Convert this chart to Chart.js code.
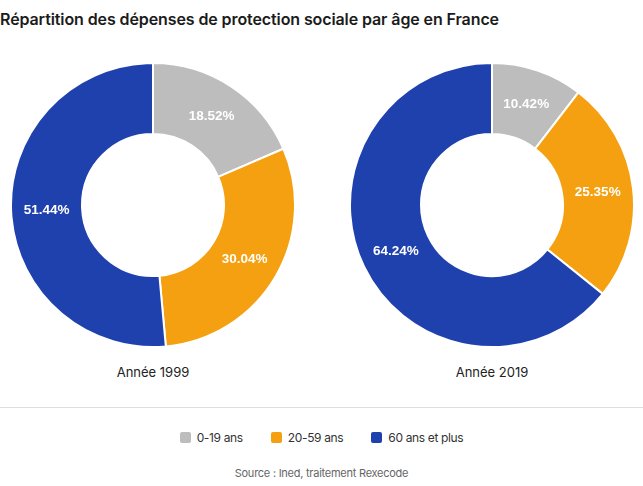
<!DOCTYPE html>
<html><head><meta charset="utf-8">
<script src="https://cdn.jsdelivr.net/npm/chart.js@4"></script>
<style>
html,body{margin:0;padding:0;background:#fff;width:643px;height:486px;overflow:hidden;font-family:Inter,"Noto Sans",sans-serif;}
#title{position:absolute;left:0;top:9px;font-size:16px;font-weight:600;color:#1b1b1b;white-space:nowrap;letter-spacing:-0.1px;}
.wrap{position:absolute;top:62px;width:286px;height:286px;}
.cap{position:absolute;top:364px;width:200px;text-align:center;font-size:13px;color:#222;}
#rule{position:absolute;left:0;top:407px;width:643px;height:1px;background:#dedede;}
#legend{position:absolute;top:430px;left:0;width:643px;text-align:center;font-size:12px;color:#333;letter-spacing:-0.35px;}
#legend span.item{display:inline-block;margin:0 14px;}
#legend i{display:inline-block;width:11px;height:11px;border-radius:2px;vertical-align:-1px;margin-right:6px;}
#source{position:absolute;top:466px;left:0;width:643px;text-align:center;font-size:11px;color:#666;letter-spacing:-0.25px;}
</style></head><body>
<div id="title">Répartition des dépenses de protection sociale par âge en France</div>
<div class="wrap" style="left:10px"><canvas id="c1"></canvas></div>
<div class="wrap" style="left:349px"><canvas id="c2"></canvas></div>
<div class="cap" id="cap1" style="left:53px"></div>
<div class="cap" id="cap2" style="left:392px"></div>
<div id="rule"></div>
<div id="legend"></div>
<div id="source">Source : Ined, traitement Rexecode</div>
<script>
const categories = ["0-19 ans", "20-59 ans", "60 ans et plus"];
const years = ["Année 1999", "Année 2019"];
const values1999 = [18.52, 30.04, 51.44];
const values2019 = [10.42, 25.35, 64.24];
const colors = ["#BDBDBD", "#F4A010", "#1F41AE"];

const labelPlugin = {
  id: 'pctLabels',
  afterDatasetsDraw(chart) {
    const ctx = chart.ctx;
    const meta = chart.getDatasetMeta(0);
    const data = chart.data.datasets[0].data;
    ctx.save();
    ctx.fillStyle = '#fff';
    ctx.font = 'bold 13.5px "Liberation Sans", Arial, sans-serif';
    ctx.textAlign = 'center';
    ctx.textBaseline = 'middle';
    meta.data.forEach((arc, i) => {
      const p = arc.tooltipPosition();
      ctx.fillText(data[i].toFixed(2) + '%', p.x, p.y);
    });
    ctx.restore();
  }
};

function make(id, values) {
  return new Chart(document.getElementById(id), {
    type: 'doughnut',
    data: { labels: categories, datasets: [{ data: values, backgroundColor: colors, borderColor: '#fff', borderWidth: 2 }] },
    options: {
      responsive: true, maintainAspectRatio: false, animation: false,
      cutout: '50%',
      layout: { padding: 0 },
      plugins: { legend: { display: false }, tooltip: { enabled: false } }
    },
    plugins: [labelPlugin]
  });
}
make('c1', values1999);
make('c2', values2019);
document.getElementById('cap1').textContent = years[0];
document.getElementById('cap2').textContent = years[1];
const lg = document.getElementById('legend');
categories.forEach((c, i) => {
  const s = document.createElement('span'); s.className = 'item';
  const b = document.createElement('i'); b.style.background = colors[i];
  s.appendChild(b); s.appendChild(document.createTextNode(c)); lg.appendChild(s);
});
</script>
</body></html>
